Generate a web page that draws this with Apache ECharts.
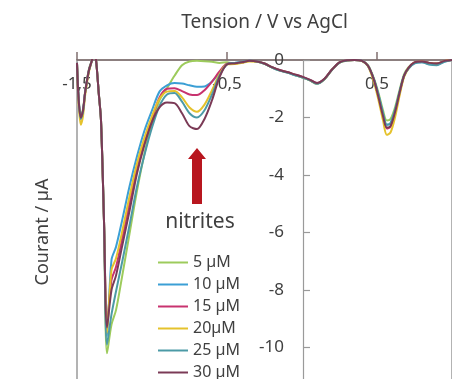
<!DOCTYPE html>
<html>
<head>
<meta charset="utf-8">
<script src="https://cdn.jsdelivr.net/npm/echarts@6/dist/echarts.min.js"></script>
<style>
  html, body { margin: 0; background: #fff; }
  #chart { width: 452px; height: 379px; }
</style>
</head>
<body>
<div id="chart"></div>
<script>
// potential (V vs AgCl)
const volts = [-1.5, -1.49, -1.475, -1.46, -1.445, -1.42, -1.40, -1.387, -1.373,
  -1.355, -1.34, -1.32, -1.30,
  -1.27, -1.24, -1.20, -1.15, -1.10, -1.05, -1.00, -0.95, -0.90, -0.85, -0.80, -0.75, -0.70, -0.65, -0.60, -0.55, -0.50,
  -0.45, -0.40, -0.35, -0.30, -0.25, -0.20, -0.15, -0.10, -0.05, 0.00, 0.05, 0.10, 0.15, 0.20, 0.25, 0.30, 0.35, 0.40,
  0.44, 0.48, 0.51, 0.54, 0.565, 0.59, 0.62, 0.65, 0.68, 0.71, 0.75, 0.80, 0.85, 0.90, 0.95, 1.00];

// current (µA), one array per concentration
const c5 = [-0.1, -1.2, -1.95, -1.7, -1.05, -0.3, 0, 0.4, 0,
  -1.15, -2.1, -5.6, -10.2,
  -9.2, -8.7, -7.55, -6.05, -4.55, -3.25, -2.2, -1.4, -0.98, -0.55, -0.18, -0.05, -0.03, -0.04, -0.06, -0.1, -0.08,
  -0.12, -0.08, -0.03, -0.05, -0.12, -0.25, -0.36, -0.43, -0.52, -0.6, -0.7, -0.82, -0.66, -0.33, -0.08, -0.01, 0, -0.03,
  -0.18, -0.65, -1.15, -1.75, -2.1, -2.05, -1.65, -1.05, -0.5, -0.25, -0.08, -0.05, -0.1, -0.12, -0.03, 0];
const c10 = [-0.1, -1.25, -2.0, -1.75, -1.1, -0.35, 0, 0.4, 0,
  -1.15, -2.1, -5.6, -9.6,
  -6.95, -6.5, -5.6, -4.4, -3.35, -2.45, -1.75, -1.1, -0.88, -0.8, -0.82, -0.88, -0.93, -0.92, -0.75, -0.45, -0.15,
  -0.1, -0.07, -0.03, -0.05, -0.13, -0.26, -0.36, -0.43, -0.52, -0.6, -0.7, -0.82, -0.66, -0.34, -0.09, -0.01, 0, -0.03,
  -0.2, -0.68, -1.22, -1.85, -2.25, -2.2, -1.75, -1.12, -0.55, -0.3, -0.12, -0.08, -0.15, -0.17, -0.05, 0];
const c15 = [-0.1, -1.3, -2.05, -1.8, -1.1, -0.35, 0, 0.4, 0,
  -1.15, -2.1, -5.6, -9.2,
  -7.65, -7.2, -6.25, -5.0, -3.75, -2.8, -2.05, -1.3, -1.0, -0.98, -1.08, -1.2, -1.22, -1.05, -0.75, -0.4, -0.13,
  -0.12, -0.08, -0.03, -0.05, -0.12, -0.25, -0.35, -0.42, -0.5, -0.58, -0.68, -0.8, -0.65, -0.33, -0.08, -0.01, 0, -0.03,
  -0.2, -0.7, -1.28, -1.95, -2.38, -2.32, -1.85, -1.18, -0.56, -0.28, -0.08, -0.05, -0.1, -0.12, -0.03, 0];
const c20 = [-0.12, -1.45, -2.25, -1.95, -1.2, -0.4, 0, 0.4, 0,
  -1.15, -2.1, -5.6, -9.5,
  -7.3, -6.9, -6.0, -4.75, -3.6, -2.7, -1.95, -1.35, -1.1, -1.08, -1.3, -1.65, -1.8, -1.55, -1.05, -0.5, -0.15,
  -0.14, -0.1, -0.05, -0.06, -0.13, -0.26, -0.36, -0.43, -0.51, -0.6, -0.7, -0.82, -0.67, -0.34, -0.09, -0.02, 0, -0.04,
  -0.22, -0.78, -1.4, -2.1, -2.6, -2.52, -2.0, -1.25, -0.6, -0.3, -0.09, -0.06, -0.11, -0.13, -0.04, 0];
const c25 = [-0.1, -1.3, -2.05, -1.8, -1.1, -0.35, 0, 0.4, 0,
  -1.15, -2.1, -5.6, -9.9,
  -8.85, -8.05, -7.05, -5.75, -4.4, -3.3, -2.35, -1.6, -1.2, -1.15, -1.45, -1.85, -2.0, -1.75, -1.2, -0.55, -0.15,
  -0.1, -0.07, -0.03, -0.05, -0.13, -0.26, -0.37, -0.44, -0.52, -0.6, -0.7, -0.83, -0.67, -0.34, -0.09, -0.02, 0, -0.03,
  -0.2, -0.68, -1.22, -1.85, -2.25, -2.2, -1.75, -1.12, -0.55, -0.3, -0.12, -0.08, -0.16, -0.18, -0.06, 0];
const c30 = [-0.1, -1.3, -2.0, -1.75, -1.1, -0.35, 0, 0.4, 0,
  -1.15, -2.1, -5.6, -9.3,
  -8.0, -7.5, -6.5, -5.25, -3.95, -2.95, -2.15, -1.65, -1.48, -1.5, -1.85, -2.3, -2.4, -2.05, -1.4, -0.6, -0.15,
  -0.12, -0.08, -0.03, -0.05, -0.12, -0.25, -0.35, -0.42, -0.5, -0.58, -0.68, -0.8, -0.65, -0.33, -0.08, -0.01, 0, -0.03,
  -0.2, -0.7, -1.3, -1.95, -2.35, -2.3, -1.82, -1.15, -0.55, -0.27, -0.08, -0.05, -0.1, -0.12, -0.03, 0];

const names = ['5 µM', '10 µM', '15 µM', '20µM', '25 µM', '30 µM'];
const curves = [c5, c10, c15, c20, c25, c30];
const colors = ['#9dcb5c', '#3b9fd5', '#c8336f', '#e5c22c', '#4c9aa6', '#7b3a56'];

const FONT = '"Noto Sans", sans-serif';
const TXT = '#404040';

const chart = echarts.init(document.getElementById('chart'));
chart.setOption({
  animation: false,
  color: colors,
  grid: {
    left: 77, top: 60, width: 375, height: 345,
    outerBoundsMode: 'none',
    show: true, borderColor: '#9a9a9a', borderWidth: 1.5
  },
  xAxis: {
    type: 'value',
    position: 'top',
    min: -1.5, max: 1.0, interval: 1,
    name: 'Tension / V vs AgCl',
    nameLocation: 'middle',
    nameGap: 28,
    nameTextStyle: { fontFamily: FONT, fontSize: 19, color: TXT },
    axisLine: { onZero: false, lineStyle: { color: '#806f6f', width: 1.5 } },
    axisTick: { show: true, inside: false, length: 8, lineStyle: { color: '#806f6f', width: 1.5 } },
    axisLabel: {
      inside: true, margin: 16, showMaxLabel: false,
      fontFamily: FONT, fontSize: 17, color: TXT,
      formatter: (v) => String(v).replace('.', ',')
    },
    splitLine: { show: false }
  },
  yAxis: {
    type: 'value',
    min: -12, max: 0, interval: 2,
    offset: -226,
    axisLine: { show: true, onZero: false, lineStyle: { color: '#9a9a9a', width: 1.2 } },
    axisTick: { show: true, inside: true, length: 7, lineStyle: { color: '#9a9a9a', width: 1.2 } },
    axisLabel: { margin: 19, fontFamily: FONT, fontSize: 17, color: TXT },
    splitLine: { show: false }
  },
  legend: {
    orient: 'vertical',
    left: 158, top: 254, height: 200,
    padding: 0,
    icon: 'rect',
    itemWidth: 30, itemHeight: 2,
    itemGap: 5,
    selectedMode: false,
    textStyle: { fontFamily: FONT, fontSize: 16, color: TXT, lineHeight: 17 },
    data: names
  },
  graphic: [
    {
      type: 'text', x: 43, y: 232, rotation: Math.PI / 2,
      style: { text: 'Courant / µA', font: '18px ' + FONT, fill: TXT, align: 'center', verticalAlign: 'middle' }
    },
    {
      type: 'text', x: 200, y: 222,
      style: { text: 'nitrites', font: '21px ' + FONT, fill: TXT, align: 'center', verticalAlign: 'middle' }
    },
    {
      type: 'polygon',
      shape: { points: [[197, 148], [206, 159], [202, 159], [202, 204], [192, 204], [192, 159], [188, 159]] },
      style: { fill: '#b8161f' }
    }
  ],
  series: curves.map((vals, i) => ({
    name: names[i],
    type: 'line',
    data: vals.map((v, j) => [volts[j], v]),
    showSymbol: false,
    smooth: 0.3,
    lineStyle: { width: 2 },
    clip: true
  }))
});
</script>
</body>
</html>
